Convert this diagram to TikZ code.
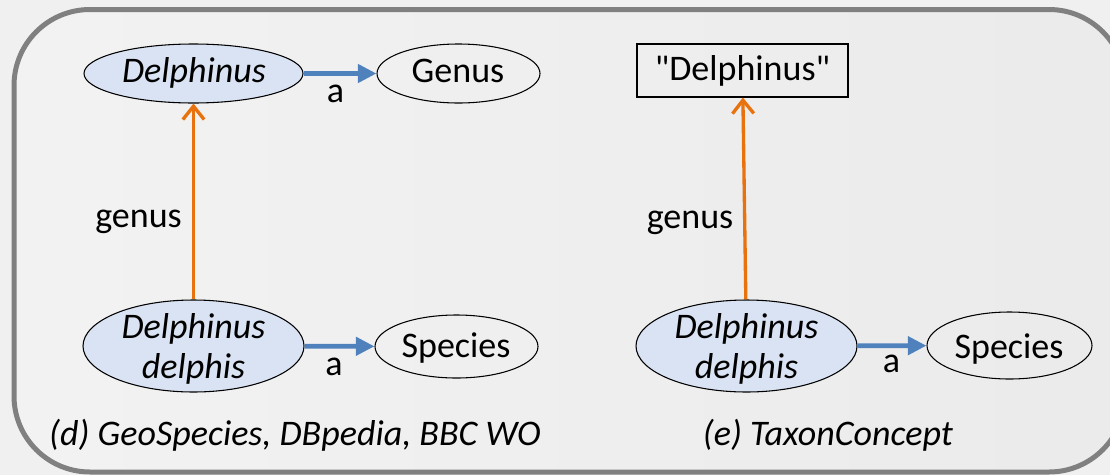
\documentclass[tikz,border=0pt]{standalone}
\usepackage{fontspec}
\setmainfont{Carlito}
\usetikzlibrary{shapes.geometric,arrows.meta}
\definecolor{bg}{RGB}{240,240,240}
\definecolor{framegray}{RGB}{128,128,128}
\definecolor{nodefill}{RGB}{218,227,243}
\definecolor{blueedge}{RGB}{79,129,189}
\definecolor{orangeedge}{RGB}{232,114,14}
\newcommand{\strq}{\XeTeXglyph\XeTeXcharglyph"22\relax}
\begin{document}
\begin{tikzpicture}[x=0.75pt,y=-0.75pt,
  every node/.style={font=\fontsize{27}{30}\selectfont},
  resnode/.style={ellipse,draw=black,line width=0.8pt,fill=nodefill,inner sep=0pt},
  clsnode/.style={ellipse,draw=black,line width=0.8pt,inner sep=0pt},
  litnode/.style={rectangle,draw=black,line width=0.8pt,inner sep=0pt},
  txt/.style={text height=20.25pt,text depth=6.75pt,inner sep=0pt},
  mtxt/.style={inner sep=0pt,align=center},
  typeedge/.style={draw=blueedge,line width=3.5pt,-{Triangle[length=14pt,width=13.5pt]}},
  propedge/.style={draw=orangeedge,line width=2.5pt,-{Straight Barb[length=10pt,width=16pt,line width=2.5pt]}},
]
\useasboundingbox (0,0) rectangle (1110,475);
\clip (0,0) rectangle (1110,475);
\fill[bg] (0,0) rectangle (1110,475);
\draw[framegray,line width=3.75pt,rounded corners=57pt,left color=black!5,right color=black!8] (14,9.5) rectangle (1125,472);

% (d) panel
\node[resnode,minimum width=164.25pt,minimum height=44.25pt] (dgen) at (193.5,73.5) {};
\node[txt] at (194,73) {\itshape Delphinus};
\node[clsnode,minimum width=122.25pt,minimum height=44.25pt] (dgenus) at (458.5,73.5) {};
\node[txt] at (458,73) {Genus};
\node[resnode,minimum width=165.75pt,minimum height=69pt] (dsp) at (193.5,346) {};
\node[mtxt] at (193.5,348.5) {\itshape Delphinus\\\itshape delphis};
\node[clsnode,minimum width=122.25pt,minimum height=47.25pt] (dspecies) at (456.5,346.5) {};
\node[txt] at (456,348) {Species};

\draw[typeedge] (dgen) -- (dgenus);
\node[txt] (la1) at (335.5,93) {a};
\draw[typeedge] (dsp) -- (dspecies);
\node[txt] (la2) at (334,366) {a};
\draw[propedge] (dsp) -- (dgen);
\node[txt] (lg1) at (138.5,218) {genus};
\node[txt] (capd) at (295,436) {\itshape (d) GeoSpecies, DBpedia, BBC WO};

% (e) panel
\node[litnode,minimum width=158.25pt,minimum height=39.75pt] (elit) at (742.5,70.5) {};
\node[txt] at (742.5,71) {\strq Delphinus\strq};
\node[resnode,minimum width=165.75pt,minimum height=69pt] (esp) at (746.5,346) {};
\node[mtxt] at (746.5,348.5) {\itshape Delphinus\\\itshape delphis};
\node[clsnode,minimum width=123.75pt,minimum height=50.25pt] (especies) at (1009.5,345.5) {};
\node[txt] at (1009,349) {Species};

\draw[typeedge] (esp) -- (especies);
\node[txt] (la3) at (891.5,363) {a};
\draw[propedge] (esp) -- (elit);
\node[txt] (lg2) at (690,219) {genus};
\node[txt] (cape) at (828,436) {\itshape (e) TaxonConcept};
\end{tikzpicture}
\end{document}
